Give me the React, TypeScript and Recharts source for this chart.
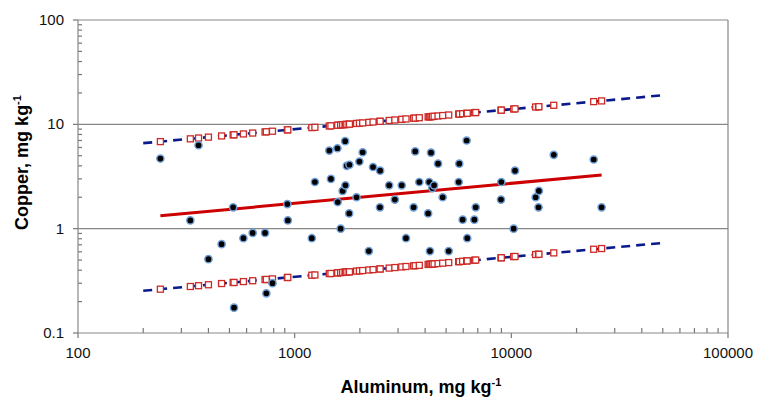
import { ComposedChart, Scatter, Line, XAxis, YAxis, ReferenceLine, Label } from "recharts";

// sample values (mg/kg)
const aluminum = [
  240, 330, 360, 400, 460, 520, 525, 580, 640, 730, 740, 790, 925, 930, 1200, 1240, 1445,
  1470, 1575, 1580, 1630, 1665, 1710, 1715, 1740, 1785, 1790, 1930, 1990, 2060, 2200, 2300,
  2475, 2480, 2730, 2900, 3120, 3265, 3540, 3600, 3760, 4130, 4180, 4210, 4260, 4320, 4400,
  4590, 4820, 5140, 5715, 5750, 5960, 6220, 6260, 6750, 6850, 8960, 8990, 10250, 10400,
  12950, 13350, 13400, 15700, 24000, 26100,
];
const copper = [
  4.7, 1.2, 6.3, 0.51, 0.71, 1.6, 0.175, 0.81, 0.91, 0.91, 0.24, 0.3, 1.72, 1.2, 0.81, 2.8, 5.6,
  3.0, 5.9, 1.8, 1.0, 2.3, 6.9, 2.6, 4.0, 1.4, 4.1, 2.0, 4.4, 5.4, 0.61, 3.9,
  1.6, 3.6, 2.6, 1.9, 2.6, 0.81, 1.6, 5.5, 2.8, 1.4, 2.8, 0.61, 5.35, 2.45, 2.6,
  4.2, 2.0, 0.61, 2.8, 4.2, 1.22, 7.0, 0.81, 1.22, 1.6, 1.9, 2.8, 1.0, 3.6,
  2.0, 1.6, 2.3, 5.1, 4.6, 1.6,
];
// prediction limits at each sample
const upperLimit = [
  6.83, 7.26, 7.39, 7.54, 7.74, 7.92, 7.94, 8.09, 8.25, 8.46, 8.48, 8.59, 8.85, 8.86, 9.3, 9.36, 9.64,
  9.67, 9.8, 9.8, 9.86, 9.9, 9.95, 9.96, 9.99, 10.04, 10.04, 10.19, 10.25, 10.32, 10.44, 10.53,
  10.68, 10.69, 10.89, 11.01, 11.17, 11.27, 11.44, 11.48, 11.57, 11.79, 11.81, 11.83, 11.86, 11.89, 11.93,
  12.03, 12.14, 12.29, 12.54, 12.56, 12.64, 12.75, 12.76, 12.95, 12.98, 13.67, 13.68, 14.03, 14.07,
  14.67, 14.75, 14.76, 15.22, 16.51, 16.77,
];
const lowerLimit = [
  0.263, 0.279, 0.284, 0.29, 0.298, 0.305, 0.305, 0.311, 0.317, 0.325, 0.326, 0.33, 0.34, 0.341, 0.358, 0.36, 0.371,
  0.372, 0.377, 0.377, 0.379, 0.381, 0.383, 0.383, 0.384, 0.386, 0.386, 0.392, 0.394, 0.397, 0.402, 0.405,
  0.411, 0.411, 0.419, 0.424, 0.43, 0.434, 0.44, 0.442, 0.445, 0.454, 0.455, 0.455, 0.456, 0.458, 0.459,
  0.463, 0.467, 0.473, 0.483, 0.483, 0.487, 0.491, 0.491, 0.498, 0.5, 0.526, 0.526, 0.54, 0.541,
  0.565, 0.568, 0.568, 0.586, 0.635, 0.645,
];

// fitted line and limit lines (end points)
const fitAl = [240, 26100];
const fitCu = [1.33, 3.27];
const limitAl = [200, 50000];
const upperLineCu = [6.6, 19];
const lowerLineCu = [0.254, 0.73];

const xMajor = [100, 1000, 10000, 100000];
const yMajor = [0.1, 1, 10, 100];
const minorSteps = [2, 3, 4, 5, 6, 7, 8, 9];

const withMinor = (major: number[]) =>
  major.flatMap((d, i) => (i < major.length - 1 ? [d, ...minorSteps.map(m => m * d)] : [d]));

const points = aluminum.map((x, i) => ({ x, y: copper[i] }));
const upperPts = aluminum.map((x, i) => ({ x, y: upperLimit[i] }));
const lowerPts = aluminum.map((x, i) => ({ x, y: lowerLimit[i] }));
const fitLine = fitAl.map((x, i) => ({ x, y: fitCu[i] }));
const upperLine = limitAl.map((x, i) => ({ x, y: upperLineCu[i] }));
const lowerLine = limitAl.map((x, i) => ({ x, y: lowerLineCu[i] }));

const FONT = "'Liberation Sans', Arial, Helvetica, sans-serif";
const AXIS = "#878787";
const TICK = "#777";

// plot box and the length of tick marks, used to turn pixel lengths into log factors
const PLOT_W = 650;
const PLOT_H = 313;
const xFactor = (len: number) => 10 ** (len / (PLOT_W / 3));
const yFactor = (len: number) => 10 ** (len / (PLOT_H / 3));
const xMinor = withMinor(xMajor).filter(v => !xMajor.includes(v));
const yMinor = withMinor(yMajor).filter(v => !yMajor.includes(v));
const xMin = xMajor[0];
const yMin = yMajor[0];

const XTick = (props: any) => {
  const { x, y, payload } = props;
  if (!xMajor.includes(payload.value)) return <g />;
  return (
    <text x={x} y={y + 25} textAnchor="middle" fontSize={15} fontFamily={FONT} fill="#111">
      {String(payload.value)}
    </text>
  );
};

const YTick = (props: any) => {
  const { x, y, payload } = props;
  if (!yMajor.includes(payload.value)) return <g />;
  return (
    <text x={x - 14} y={y + 5} textAnchor="end" fontSize={15} fontFamily={FONT} fill="#111">
      {String(payload.value)}
    </text>
  );
};

const XTitle = (props: any) => {
  const vb = props.viewBox;
  return (
    <text x={vb.x + vb.width / 2 + 18} y={vb.y + 60} textAnchor="middle" fontSize={18}
      fontWeight="bold" fontFamily={FONT} fill="#000">
      Aluminum, mg kg<tspan fontSize={11} dy={-7}>-1</tspan>
    </text>
  );
};

const YTitle = (props: any) => {
  const vb = props.viewBox;
  const cx = vb.x + 28;
  const cy = vb.y + vb.height / 2 - 14;
  return (
    <text x={cx} y={cy} transform={`rotate(-90, ${cx}, ${cy})`} textAnchor="middle" fontSize={18}
      fontWeight="bold" fontFamily={FONT} fill="#000">
      Copper, mg kg<tspan fontSize={11} dy={-7}>-1</tspan>
    </text>
  );
};

const Dot = (props: any) => (
  <circle cx={props.cx} cy={props.cy} r={3.6} fill="#000" stroke="#6f9fd6" strokeWidth={1.5} />
);

const Square = (props: any) => (
  <rect x={props.cx - 3} y={props.cy - 3} width={6} height={6} fill="#fff" stroke="#cc2a26" strokeWidth={1.3} />
);

export default function App() {
  return (
    <div style={{ position: "absolute", left: 0, top: 0, background: "#fff" }}>
      <ComposedChart width={772} height={400} margin={{ top: 20, right: 44, bottom: 0, left: 0 }}>
        <XAxis
          dataKey="x"
          type="number"
          scale="log"
          domain={[100, 100000]}
          ticks={withMinor(xMajor)}
          interval={0}
          tickSize={0}
          tickMargin={0}
          tick={<XTick />}
          tickLine={false}
          axisLine={{ stroke: AXIS, strokeWidth: 1.2 }}
          height={67}
          allowDataOverflow
        >
          <Label content={<XTitle />} />
        </XAxis>
        <YAxis
          dataKey="y"
          type="number"
          scale="log"
          domain={[0.1, 100]}
          ticks={withMinor(yMajor)}
          interval={0}
          tickSize={0}
          tickMargin={0}
          tick={<YTick />}
          tickLine={false}
          axisLine={{ stroke: AXIS, strokeWidth: 1.2 }}
          width={78}
          allowDataOverflow
        >
          <Label content={<YTitle />} />
        </YAxis>
        {yMajor.slice(1).map(v => (
          <ReferenceLine key={`g${v}`} y={v} stroke={AXIS} strokeWidth={1.2} />
        ))}
        <ReferenceLine x={100000} stroke={AXIS} strokeWidth={1.2} />
        {/* tick marks: majors outside, minors inside */}
        {xMajor.map(v => (
          <ReferenceLine key={`xM${v}`} ifOverflow="visible" stroke={TICK} strokeWidth={1.2}
            segment={[{ x: v, y: yMin }, { x: v, y: yMin / yFactor(5) }]} />
        ))}
        {xMinor.map(v => (
          <ReferenceLine key={`xm${v}`} ifOverflow="visible" stroke={TICK} strokeWidth={1.2}
            segment={[{ x: v, y: yMin }, { x: v, y: yMin * yFactor(5) }]} />
        ))}
        {yMajor.map(v => (
          <ReferenceLine key={`yM${v}`} ifOverflow="visible" stroke={TICK} strokeWidth={1.2}
            segment={[{ x: xMin, y: v }, { x: xMin / xFactor(5), y: v }]} />
        ))}
        {yMinor.map(v => (
          <ReferenceLine key={`ym${v}`} ifOverflow="visible" stroke={TICK} strokeWidth={1.2}
            segment={[{ x: xMin, y: v }, { x: xMin * xFactor(4), y: v }]} />
        ))}
        <Scatter data={upperPts} shape={<Square />} isAnimationActive={false} />
        <Scatter data={lowerPts} shape={<Square />} isAnimationActive={false} />
        <Line data={upperLine} dataKey="y" type="linear" stroke="#0a1a8c" strokeWidth={2.6}
          strokeDasharray="9 6" dot={false} isAnimationActive={false} />
        <Line data={lowerLine} dataKey="y" type="linear" stroke="#0a1a8c" strokeWidth={2.6}
          strokeDasharray="9 6" dot={false} isAnimationActive={false} />
        <Line data={fitLine} dataKey="y" type="linear" stroke="#cc0000" strokeWidth={3}
          dot={false} isAnimationActive={false} />
        <Scatter data={points} shape={<Dot />} isAnimationActive={false} />
      </ComposedChart>
    </div>
  );
}
